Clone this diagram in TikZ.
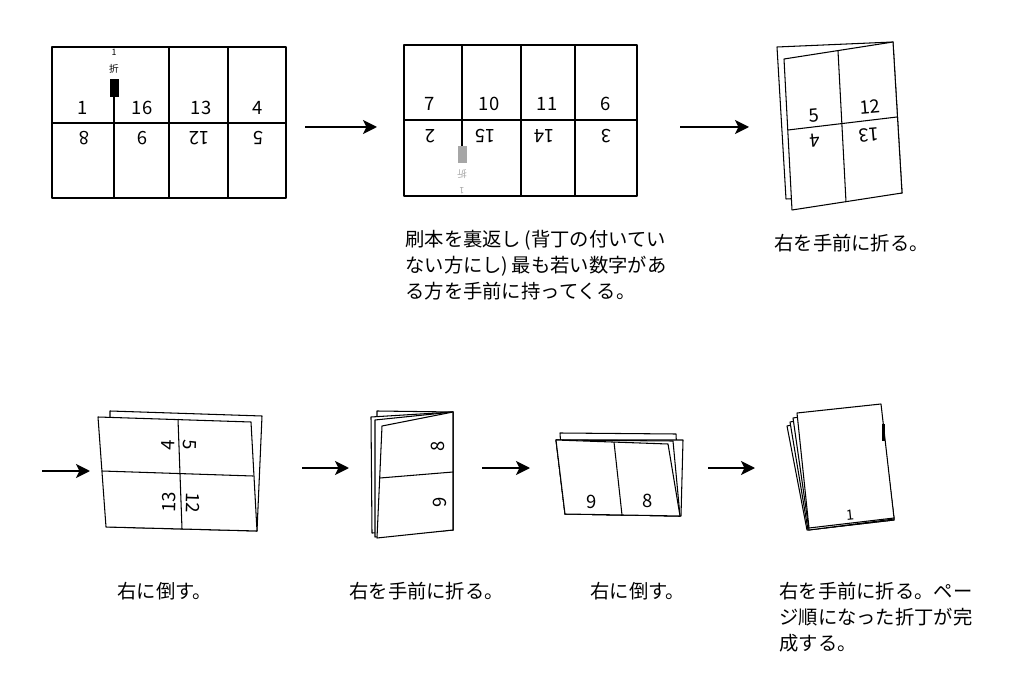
\documentclass[tikz,border=0pt]{standalone}
\usepackage{fontspec}
\setmainfont{Noto Sans CJK JP}
\usetikzlibrary{arrows.meta}

\begin{document}
\begin{tikzpicture}[
        x=0.02cm, y=-0.02cm,
        sheet/.style={draw, fill=white, line width=0.6pt, line join=round},
        fold/.style={line width=0.6pt},
        num/.style={inner sep=0pt, font=\fontsize{10.5}{11}\selectfont},
        tiny/.style={inner sep=0pt, font=\fontsize{5.5}{6}\selectfont},
        caption/.style={anchor=north west, inner sep=0pt, align=left, font=\fontsize{11}{14.7}\selectfont},
        arrow/.style={line width=1.1pt, -{Stealth[length=8pt, width=8pt, inset=2pt]}}
    ]
    \useasboundingbox (0,0) rectangle (1024,692);

    % sheet laid open, front
    \draw[sheet] (52,47) rectangle (286,198);
    \draw[fold] (52,123) -- (286,123);
    \draw[fold] (169,47) -- (169,198);
    \draw[fold] (228,47) -- (228,198);
    \draw[fold] (114,96) -- (114,198);
    \fill (109.5,79) rectangle (118.5,97);
    \node[tiny, font=\fontsize{5}{5}\selectfont] (sig1) at (114,52) {1};
    \node[tiny] (sigfold1) at (114,69) {折};
    \node[num] (p1) at (83,108) {1};
    \node[num] (p16) at (142,108) {16};
    \node[num] (p13) at (201,108) {13};
    \node[num] (p4) at (258,108) {4};
    \node[num, rotate=180] (p8) at (84,138) {8};
    \node[num, rotate=180] (p9) at (142,138) {9};
    \node[num, rotate=180] (p12) at (199,138) {12};
    \node[num, rotate=180] (p5) at (258,138) {5};

    % sheet turned over
    \draw[sheet] (404,45) rectangle (637,196);
    \draw[fold] (404,120) -- (637,120);
    \draw[fold] (462,45) -- (462,146);
    \draw[fold] (521,45) -- (521,196);
    \draw[fold] (575,45) -- (575,196);
    \fill[gray!70] (457.5,146) rectangle (466.5,163);
    \node[tiny, gray!70, rotate=180] (sigfold2) at (462,174) {折};
    \node[tiny, gray!70, rotate=180, font=\fontsize{5}{5}\selectfont] (sig2) at (462,191) {1};
    \node[num] (q7) at (430,104) {7};
    \node[num] (q10) at (489,104) {10};
    \node[num] (q11) at (547,104) {11};
    \node[num] (q6) at (606,104) {6};
    \node[num, rotate=180] (q2) at (430,136) {2};
    \node[num, rotate=180] (q15) at (485,136) {15};
    \node[num, rotate=180] (q14) at (544,136) {14};
    \node[num, rotate=180] (q3) at (606,136) {3};

    % first fold
    \draw[sheet] (777,47) -- (893,42) -- (902,193) -- (786,199) -- cycle;
    \draw[sheet] (784,59) -- (893,42) -- (902,193) -- (792,210) -- cycle;
    \draw[fold] (838,51) -- (846,202);
    \draw[fold] (788,130) -- (897,117);
    \node[num, rotate=5] (r5) at (814,116) {5};
    \node[num, rotate=5] (r12) at (870,107) {12};
    \node[num, rotate=185] (r4) at (815,141) {4};
    \node[num, rotate=185] (r13) at (869,135) {13};

    % turned to the right
    \draw[sheet] (110,411) -- (262,416) -- (257,531) -- (110,527) -- cycle;
    \draw[sheet] (98,417) -- (251,422) -- (257,531) -- (106,527) -- cycle;
    \draw[fold] (178,419) -- (182,529);
    \draw[fold] (102,471) -- (253,476);
    \node[num, rotate=88] (s4) at (168,445) {4};
    \node[num, rotate=-92] (s5) at (190,445) {5};
    \node[num, rotate=88] (s13) at (169,502) {13};
    \node[num, rotate=-92] (s12) at (193,503) {12};

    % second fold
    \draw[sheet] (377,411) -- (453,412) -- (453,530) -- (377,535) -- cycle;
    \draw[sheet] (371,417) -- (453,412) -- (453,530) -- (372,533) -- cycle;
    \draw[sheet] (375,420) -- (453,412) -- (453,530) -- (375,537) -- cycle;
    \draw[sheet] (382,426) -- (453,412) -- (453,530) -- (377,538) -- cycle;
    \draw[fold] (380,478) -- (453,472);
    \node[num, rotate=90] (t8) at (438,446) {8};
    \node[num, rotate=90] (t9) at (440,502) {9};

    % turned to the right again
    \draw[sheet] (560,433) -- (676,434) -- (680,516) -- (565,514) -- cycle;
    \draw[sheet] (556,440) -- (683,440) -- (681,516) -- (565,514) -- cycle;
    \draw[sheet] (556,440) -- (673,441) -- (680,516) -- (565,514) -- cycle;
    \draw[sheet] (556,440) -- (668,444) -- (680,516) -- (565,514) -- cycle;
    \draw[fold] (614,442) -- (622,515);
    \node[num] (u9) at (592,502) {9};
    \node[num] (u8) at (648,501) {8};

    % finished signature
    \draw[sheet] (787,426) -- (880,405) -- (894,520) -- (807,530) -- cycle;
    \draw[sheet] (790,422) -- (880,405) -- (894,520) -- (808,530) -- cycle;
    \draw[sheet] (793,418) -- (880,405) -- (894,519) -- (809,530) -- cycle;
    \draw[sheet] (797,413) -- (881,404) -- (894,518) -- (809,528) -- cycle;
    \fill (881.5,424) rectangle (885,441);
    \node[num, rotate=6, font=\fontsize{8}{8}\selectfont] (v1) at (850,515) {1};

    \coordinate (a1s) at (305,127);
    \coordinate (a1e) at (377,127);
    \coordinate (a2s) at (680,127);
    \coordinate (a2e) at (749,127);
    \coordinate (a3s) at (42,471);
    \coordinate (a3e) at (90,471);
    \coordinate (a4s) at (302,468);
    \coordinate (a4e) at (349,468);
    \coordinate (a5s) at (482,468);
    \coordinate (a5e) at (530,468);
    \coordinate (a6s) at (708,468);
    \coordinate (a6e) at (755,468);
    \draw[arrow] (a1s) -- (a1e);
    \draw[arrow] (a2s) -- (a2e);
    \draw[arrow] (a3s) -- (a3e);
    \draw[arrow] (a4s) -- (a4e);
    \draw[arrow] (a5s) -- (a5e);
    \draw[arrow] (a6s) -- (a6e);

    \node[caption] (turnover) at (405,230) {刷本を裏返し\,(背丁の付いてい\\ない方にし)\,最も若い数字があ\\る方を手前に持ってくる。};
    \node[caption] (foldone) at (774,234) {右を手前に折る。};
    \node[caption] (tiltone) at (117,582) {右に倒す。};
    \node[caption] (foldtwo) at (349,582) {右を手前に折る。};
    \node[caption] (tilttwo) at (590,582) {右に倒す。};
    \node[caption] (foldthree) at (779,582) {右を手前に折る。ペー\\ジ順になった折丁が完\\成する。};
\end{tikzpicture}
\end{document}
